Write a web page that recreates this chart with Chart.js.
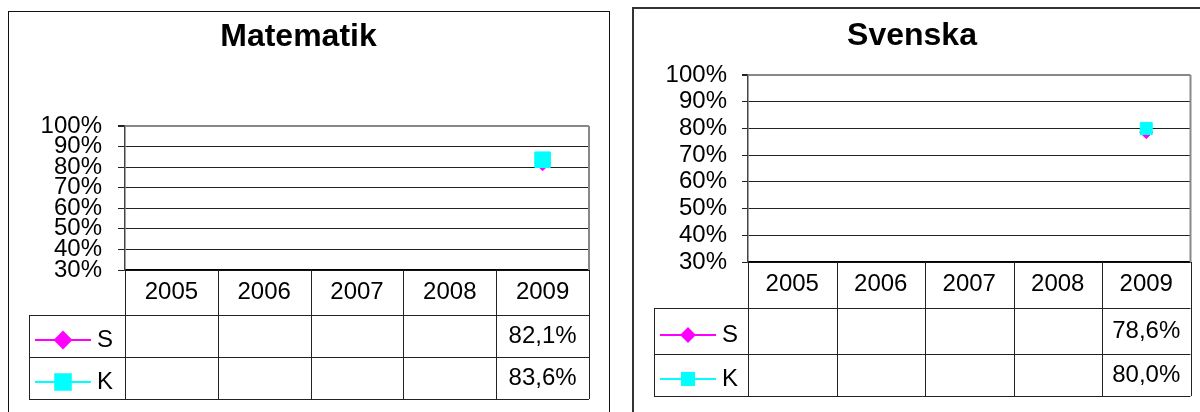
<!DOCTYPE html>
<html>
<head>
<meta charset="utf-8">
<script src="https://cdn.jsdelivr.net/npm/chart.js@4.4.0/dist/chart.umd.min.js"></script>
<style>
  html, body { margin:0; padding:0; background:#fff; width:1200px; height:412px; overflow:hidden; }
  .frame { position:absolute; box-sizing:border-box; }
  #frameMath { left:8px; top:11px; width:602px; height:430px; border:1px solid #111; }
  #frameSwe { left:632px; top:7px; width:600px; height:430px; border:2px solid #333; }
  .wrap { position:absolute; }
  #wrapMath { left:8px; top:11px; width:601px; height:401px; }
  #wrapSwe { left:632px; top:7px; width:568px; height:405px; }
</style>
</head>
<body>
<div class="frame" id="frameMath"></div>
<div class="frame" id="frameSwe"></div>
<div class="wrap" id="wrapMath"><canvas id="mathChart"></canvas></div>
<div class="wrap" id="wrapSwe"><canvas id="sweChart"></canvas></div>

<script>
// data
const years = ["2005", "2006", "2007", "2008", "2009"];
const seriesNames = ["S", "K"];
const mathS = [null, null, null, null, 82.1];
const mathK = [null, null, null, null, 83.6];
const sweS  = [null, null, null, null, 78.6];
const sweK  = [null, null, null, null, 80.0];
const yMin = 30, yMax = 100, yStep = 10;

const FONT = "'Liberation Sans', Arial, sans-serif";
const MAGENTA = "#FF00FF";
const CYAN = "#00FFFF";

function fmtPct(v){
  return v.toFixed(1).replace(".", ",") + "%";
}

// data table under the plot (legend keys + values), drawn off the x scale
const dataTable = {
  id: "dataTable",
  afterDraw(chart, args, opts){
    const ctx = chart.ctx;
    const ca = chart.chartArea;
    const x = chart.scales.x;
    const n = chart.data.labels.length;
    const L = opts.legendLeft;
    const rowTop = x.bottom;
    let bottom = rowTop;
    opts.rowHeights.forEach(h => bottom += h);

    ctx.save();
    // plot right border
    ctx.strokeStyle = "#888";
    ctx.lineWidth = 2;
    ctx.beginPath();
    ctx.moveTo(ca.right, ca.top);
    ctx.lineTo(ca.right, ca.bottom);
    ctx.stroke();

    ctx.strokeStyle = "#222";
    ctx.lineWidth = 1;
    const hline = (y, x0, x1) => { ctx.beginPath(); ctx.moveTo(x0, Math.round(y)+0.5); ctx.lineTo(x1, Math.round(y)+0.5); ctx.stroke(); };
    const vline = (px, y0, y1) => { ctx.beginPath(); ctx.moveTo(Math.round(px)+0.5, y0); ctx.lineTo(Math.round(px)+0.5, y1); ctx.stroke(); };

    for(let i = 0; i <= n; i++){
      vline(x.getPixelForValue(i - 0.5), ca.bottom, bottom);
    }
    vline(L, rowTop, bottom);
    hline(rowTop, L, ca.right);

    let y0 = rowTop;
    chart.data.datasets.forEach((ds, i) => {
      const h = opts.rowHeights[i];
      const yc = y0 + h / 2;
      hline(y0 + h, L, ca.right);

      // legend key
      const ky = yc + 4;
      ctx.strokeStyle = ds.borderColor;
      ctx.lineWidth = 2;
      ctx.beginPath();
      ctx.moveTo(L + 6, ky);
      ctx.lineTo(L + 62, ky);
      ctx.stroke();
      ctx.fillStyle = ds.backgroundColor;
      Chart.helpers.drawPoint(ctx, {pointStyle: ds.pointStyle, radius: ds.pointRadius, rotation: 0, borderWidth: 1}, L + 34, ky);
      ctx.fill();
      ctx.fillStyle = "#000";
      ctx.font = "24px " + FONT;
      ctx.textAlign = "left";
      ctx.textBaseline = "middle";
      ctx.fillText(ds.label, L + 68, ky);

      // values
      ctx.textAlign = "center";
      ds.data.forEach((v, j) => {
        if(v == null) return;
        ctx.fillText(fmtPct(v), x.getPixelForValue(j), yc);
      });
      ctx.strokeStyle = "#222";
      ctx.lineWidth = 1;
      y0 += h;
    });
    ctx.restore();
  }
};

function makeChart(id, title, sData, kData, cfg){
  return new Chart(document.getElementById(id), {
    type: "line",
    data: {
      labels: years,
      datasets: [
        { label: seriesNames[0], data: sData, borderColor: MAGENTA, backgroundColor: MAGENTA,
          borderWidth: 2, pointStyle: "rectRot", pointRadius: cfg.sRadius, pointBorderWidth: 1, order: 2 },
        { label: seriesNames[1], data: kData, borderColor: CYAN, backgroundColor: CYAN,
          borderWidth: 2, pointStyle: "rect", pointRadius: cfg.kRadius, pointBorderWidth: 1, order: 1 }
      ]
    },
    options: {
      responsive: true,
      maintainAspectRatio: false,
      animation: false,
      layout: { padding: { left: 0, right: cfg.padRight, top: 0, bottom: cfg.padBottom } },
      plugins: {
        legend: { display: false },
        tooltip: { enabled: false },
        title: { display: true, text: title, color: "#000",
          font: { family: FONT, size: 32, weight: "bold" },
          padding: { top: cfg.titleTop, bottom: cfg.titleBottom } },
        dataTable: { legendLeft: cfg.legendLeft, rowHeights: cfg.rowHeights }
      },
      scales: {
        x: {
          offset: true,
          afterFit: s => { s.height = cfg.catHeight; },
          grid: { display: false, drawTicks: false },
          border: { display: true, color: "#000", width: 1.5 },
          ticks: { color: "#000", font: { family: FONT, size: 24 }, padding: 8, autoSkip: false, maxRotation: 0 }
        },
        y: {
          min: yMin, max: yMax,
          afterFit: s => { s.width = cfg.yWidth; },
          ticks: { stepSize: yStep, autoSkip: false, padding: cfg.yPad, color: "#000",
            font: { family: FONT, size: 24 }, callback: v => v + "%" },
          grid: {
            color: c => (c.tick && c.tick.value === yMax) ? "#888" : "#222",
            lineWidth: c => (c.tick && c.tick.value === yMax) ? 2 : 1,
            tickColor: "#222",
            tickLength: cfg.tickLen
          },
          border: { color: "#444", width: 1.5 }
        }
      }
    },
    plugins: [dataTable]
  });
}

makeChart("mathChart", "Matematik", mathS, mathK, {
  padRight: 20, padBottom: 97, titleTop: 6.5, titleBottom: 70.1,
  catHeight: 45, yWidth: 117, yPad: 16, tickLen: 7,
  legendLeft: 21, rowHeights: [42, 42], sRadius: 8, kRadius: 11
});

makeChart("sweChart", "Svenska", sweS, sweK, {
  padRight: 8, padBottom: 104, titleTop: 9.5, titleBottom: 20.1,
  catHeight: 46, yWidth: 116, yPad: 15, tickLen: 6,
  legendLeft: 22, rowHeights: [46, 42], sRadius: 6.5, kRadius: 8.5
});
</script>
</body>
</html>
